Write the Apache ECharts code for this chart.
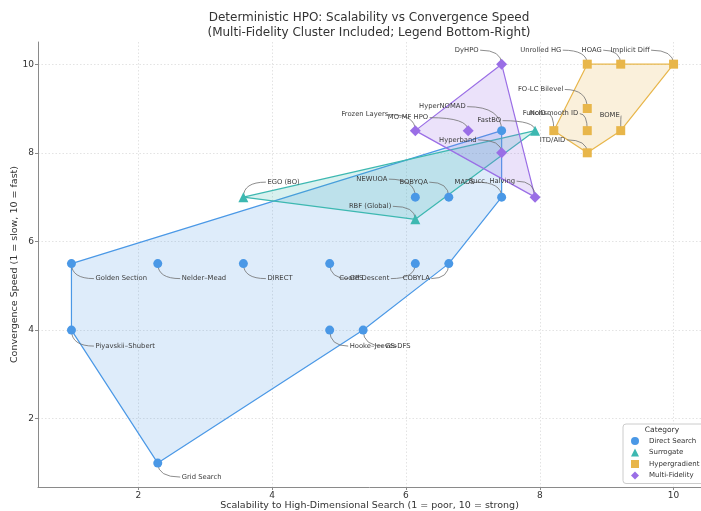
<!DOCTYPE html>
<html>
<head>
<meta charset="utf-8">
<script src="https://cdn.jsdelivr.net/npm/echarts@6/dist/echarts.min.js"></script>
<style>
  html, body { margin: 0; padding: 0; background: #ffffff; }
  #chart { width: 701px; height: 511px; }
</style>
</head>
<body>
<div id="chart"></div>
<script>
// ---- data -------------------------------------------------------------
const categories = ['Direct Search', 'Surrogate', 'Hypergradient', 'Multi-Fidelity'];

const directSearchNames = ['Golden Section', 'Nelder\u2013Mead', 'DIRECT', 'GPS', 'Coord Descent', 'COBYLA',
  'Piyavskii\u2013Shubert', 'Hooke\u2013Jeeves', 'GS-DFS', 'Grid Search', 'NEWUOA', 'BOBYQA', 'MADS', 'HyperNOMAD'];
const directSearchX = [1.0, 2.29, 3.57, 4.86, 6.14, 6.64, 1.0, 4.86, 5.36, 2.29, 6.14, 6.64, 7.43, 7.43];
const directSearchY = [5.5, 5.5, 5.5, 5.5, 5.5, 5.5, 4.0, 4.0, 4.0, 1.0, 7.0, 7.0, 7.0, 8.5];

const surrogateNames = ['EGO (BO)', 'RBF (Global)', 'FastBO'];
const surrogateX = [3.57, 6.14, 7.93];
const surrogateY = [7.0, 6.5, 8.5];

const hypergradientNames = ['Unrolled HG', 'HOAG', 'Implicit Diff', 'FO-LC Bilevel', 'FuncID', 'Nonsmooth ID', 'BOME', 'ITD/AID'];
const hypergradientX = [8.71, 9.21, 10.0, 8.71, 8.21, 8.71, 9.21, 8.71];
const hypergradientY = [10.0, 10.0, 10.0, 9.0, 8.5, 8.5, 8.5, 8.0];

const multiFidelityNames = ['DyHPO', 'Frozen Layers', 'MO-MF HPO', 'Hyperband', 'Succ. Halving'];
const multiFidelityX = [7.43, 6.14, 6.93, 7.43, 7.93];
const multiFidelityY = [10.0, 8.5, 8.5, 8.0, 7.0];

const tickValues = [2, 4, 6, 8, 10];

// ---- styling ----------------------------------------------------------
const colors = ['#4A98E6', '#3DB8B1', '#E8B64A', '#9A6EE6'];
const fills = ['rgba(74,152,230,0.18)', 'rgba(61,184,177,0.2)', 'rgba(232,182,74,0.2)', 'rgba(154,110,230,0.2)'];
const symbols = ['circle', 'triangle', 'rect', 'diamond'];
const symbolSizes = [9, 10, 9, 11];
const FONT = '"DejaVu Sans", "Liberation Sans", sans-serif';

// where each method's callout text sits relative to its marker (px) and how it is anchored
const calloutPlacement = {
  'Golden Section': [24, 15, 'left'],
  'Nelder\u2013Mead': [24, 15, 'left'],
  'DIRECT': [24, 15, 'left'],
  'GPS': [20, 15, 'left'],
  'Coord Descent': [-26, 15, 'right'],
  'COBYLA': [-19, 15, 'right'],
  'Piyavskii\u2013Shubert': [24, 16, 'left'],
  'Hooke\u2013Jeeves': [20, 16, 'left'],
  'GS-DFS': [22, 16, 'left'],
  'Grid Search': [24, 14, 'left'],
  'NEWUOA': [-28, -18, 'right'],
  'BOBYQA': [-21, -15, 'right'],
  'MADS': [-27, -15, 'right'],
  'HyperNOMAD': [-36, -24, 'right'],
  'EGO (BO)': [24, -15, 'left'],
  'RBF (Global)': [-24, -13, 'right'],
  'FastBO': [-34, -10, 'right'],
  'Unrolled HG': [-26, -14, 'right'],
  'HOAG': [-19, -14, 'right'],
  'Implicit Diff': [-24, -14, 'right'],
  'FO-LC Bilevel': [-24, -19, 'right'],
  'FuncID': [-8, -17, 'right'],
  'Nonsmooth ID': [-9, -17, 'right'],
  'BOME': [-1, -15, 'right'],
  'ITD/AID': [-22, -13, 'right'],
  'DyHPO': [-23, -14, 'right'],
  'Frozen Layers': [-27, -16, 'right'],
  'MO-MF HPO': [-40, -13, 'right'],
  'Hyperband': [-25, -13, 'right'],
  'Succ. Halving': [-20, -16, 'right']
};

// ---- assembly ---------------------------------------------------------
const groups = [
  [directSearchNames, directSearchX, directSearchY],
  [surrogateNames, surrogateX, surrogateY],
  [hypergradientNames, hypergradientX, hypergradientY],
  [multiFidelityNames, multiFidelityX, multiFidelityY]
];

function toPoints(g) {
  return g[1].map((x, i) => [x, g[2][i], g[0][i]]);
}

// monotone-chain convex hull
function convexHull(pts) {
  const p = pts.map(q => [q[0], q[1]]).sort((a, b) => a[0] - b[0] || a[1] - b[1]);
  if (p.length < 3) return p;
  const cross = (o, a, b) => (a[0] - o[0]) * (b[1] - o[1]) - (a[1] - o[1]) * (b[0] - o[0]);
  const lower = [];
  for (const q of p) {
    while (lower.length >= 2 && cross(lower[lower.length - 2], lower[lower.length - 1], q) <= 0) lower.pop();
    lower.push(q);
  }
  const upper = [];
  for (let i = p.length - 1; i >= 0; i--) {
    const q = p[i];
    while (upper.length >= 2 && cross(upper[upper.length - 2], upper[upper.length - 1], q) <= 0) upper.pop();
    upper.push(q);
  }
  upper.pop(); lower.pop();
  return lower.concat(upper);
}

const series = [];

// shaded cluster hulls
groups.forEach((g, ci) => {
  const hull = convexHull(toPoints(g));
  series.push({
    type: 'custom',
    name: 'hull-' + ci,
    silent: true,
    z: 1,
    clip: false,
    data: [hull[0]],
    renderItem: function (params, api) {
      if (params.dataIndex !== 0) return null;
      const pts = hull.map(q => api.coord(q));
      return {
        type: 'polygon',
        shape: { points: pts },
        style: { fill: fills[ci], stroke: colors[ci], lineWidth: 1.2, lineJoin: 'round' }
      };
    }
  });
});

// callouts (curved leader + name)
const allPoints = [].concat(...groups.map(toPoints));
series.push({
  type: 'custom',
  name: 'callouts',
  silent: true,
  z: 2,
  clip: false,
  data: allPoints.map(p => [p[0], p[1]]),
  renderItem: function (params, api) {
    const name = allPoints[params.dataIndex][2];
    const c = api.coord([api.value(0), api.value(1)]);
    const pl = calloutPlacement[name] || [20, 15, 'left'];
    const lx = c[0] + pl[0];
    const ly = c[1] + pl[1];
    const ex = pl[2] === 'left' ? lx - 1.5 : lx + 1.5;
    return {
      type: 'group',
      children: [
        {
          type: 'bezierCurve',
          shape: { x1: ex, y1: ly, x2: c[0], y2: c[1], cpx1: c[0], cpy1: ly },
          style: { stroke: '#707070', fill: null, lineWidth: 0.8 }
        },
        {
          type: 'text',
          style: {
            text: name, x: lx, y: ly, align: pl[2], verticalAlign: 'middle',
            font: '6.8px ' + FONT, fill: '#3a3a3a'
          }
        }
      ]
    };
  }
});

// markers
groups.forEach((g, ci) => {
  series.push({
    type: 'scatter',
    name: categories[ci],
    z: 3,
    symbol: symbols[ci],
    symbolSize: symbolSizes[ci],
    itemStyle: { color: colors[ci], opacity: 1 },
    data: toPoints(g).map(p => ({ value: [p[0], p[1]], name: p[2] }))
  });
});

const axisCommon = {
  type: 'value',
  axisLine: { show: true, lineStyle: { color: '#8a8a8a', width: 1 } },
  axisTick: { show: true, length: 3, customValues: tickValues, lineStyle: { color: '#8a8a8a' } },
  axisLabel: { customValues: tickValues, color: '#333', fontSize: 9, fontFamily: FONT, margin: 4 },
  splitLine: { show: true, lineStyle: { color: '#dcdcdc', width: 0.8, type: [1.5, 2] } },
  nameLocation: 'middle',
  nameMoveOverlap: false,
  nameTextStyle: { color: '#333', fontSize: 9.5, fontFamily: FONT }
};

const option = {
  animation: false,
  backgroundColor: '#ffffff',
  textStyle: { fontFamily: FONT },
  title: {
    text: 'Deterministic HPO: Scalability vs Convergence Speed\n(Multi-Fidelity Cluster Included; Legend Bottom-Right)',
    left: 369,
    top: 10,
    padding: 0,
    textAlign: 'center',
    textStyle: { fontSize: 12, fontWeight: 'normal', color: '#333', lineHeight: 15, fontFamily: FONT }
  },
  grid: { left: 38, right: 0, top: 42, bottom: 24, containLabel: false, outerBoundsMode: 'none' },
  xAxis: Object.assign({}, axisCommon, {
    min: 0.5, max: 10.41,
    name: 'Scalability to High-Dimensional Search (1 = poor, 10 = strong)',
    nameGap: 14
  }),
  yAxis: Object.assign({}, axisCommon, {
    min: 0.46, max: 10.5,
    name: 'Convergence Speed (1 = slow, 10 = fast)',
    nameGap: 18
  }),
  legend: {
    data: categories,
    orient: 'vertical',
    left: 623,
    top: 424,
    padding: [13, 12, 4, 8],
    itemGap: 3.5,
    itemWidth: 8,
    itemHeight: 8,
    backgroundColor: 'rgba(255,255,255,0.9)',
    borderColor: '#cccccc',
    borderWidth: 1,
    borderRadius: 3,
    textStyle: { fontSize: 7, color: '#333', fontFamily: FONT, padding: [0, 0, 0, 5] }
  },
  graphic: [{
    type: 'text',
    z: 100,
    x: 662,
    y: 430,
    style: { text: 'Category', align: 'center', verticalAlign: 'middle', font: '7.5px ' + FONT, fill: '#333' }
  }],
  series: series
};

const chart = echarts.init(document.getElementById('chart'), null, { renderer: 'canvas' });
chart.setOption(option);
</script>
</body>
</html>
